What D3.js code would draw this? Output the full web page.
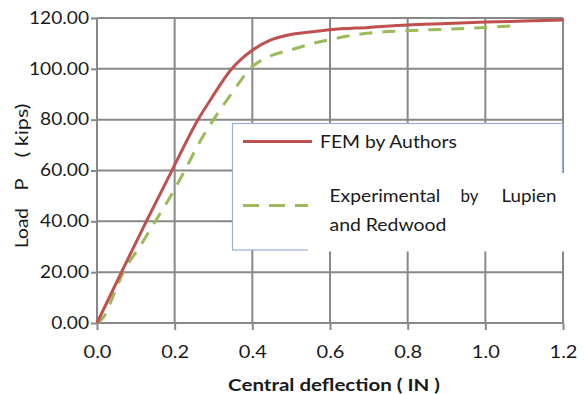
<!DOCTYPE html>
<html>
<head>
<meta charset="utf-8">
<script src="https://cdn.jsdelivr.net/npm/d3@7"></script>
<style>
  html, body { margin: 0; padding: 0; background: #fff; }
  svg { display: block; font-family: Lato, "Open Sans", sans-serif; }
</style>
</head>
<body>
<div id="chart"></div>
<script>
// load vs central deflection
const femDeflection = [0, 0.063, 0.127, 0.193, 0.26, 0.295, 0.347, 0.40, 0.445, 0.49, 0.556, 0.60, 0.70, 0.80, 0.90, 1.00, 1.10, 1.20];
const femLoad       = [0, 20, 40, 60, 80, 88.5, 100, 107.3, 111.2, 113.2, 114.6, 115.4, 116.3, 117.2, 117.8, 118.4, 118.8, 119.2];

const expDeflection = [0, 0.02, 0.04, 0.068, 0.11, 0.15, 0.19, 0.226, 0.26, 0.30, 0.35, 0.394, 0.45, 0.50, 0.556, 0.60, 0.685, 0.80, 0.90, 1.00, 1.08];
const expLoad       = [0, 3, 10, 20, 30, 40, 50, 60, 70, 80, 91, 100, 105.3, 107.5, 110, 111.5, 113.8, 115.0, 115.6, 116.3, 117.0];

const xTicks = [0, 0.2, 0.4, 0.6, 0.8, 1.0, 1.2];
const yTicks = [0, 20, 40, 60, 80, 100, 120];

const seriesNames = ['FEM by Authors', 'Experimental by Lupien and Redwood'];

const W = 584, H = 394;
const GRID = '#888888';
const INK = '#1a1a1a';

const x = d3.scaleLinear().domain([0, 1.2]).range([97, 563]);
const y = d3.scaleLinear().domain([0, 120]).range([323, 18]);

// the source image is stretched sideways, so text gets widened to the measured width
function fitText(sel, width) {
  const sx = width / d3.max(sel.nodes(), n => n.getComputedTextLength());
  sel.attr('transform', function() {
    const ax = +this.getAttribute('x') || 0;
    return `translate(${ax},0) scale(${sx},1) translate(${-ax},0)`;
  });
  return sx;
}

const svg = d3.select('#chart').append('svg')
  .attr('width', W)
  .attr('height', H);

// grid
svg.append('g').selectAll('line')
  .data(xTicks).join('line')
  .attr('x1', d => x(d)).attr('x2', d => x(d))
  .attr('y1', y(120)).attr('y2', y(0))
  .style('stroke', GRID).style('stroke-width', 2);

svg.append('g').selectAll('line')
  .data(yTicks).join('line')
  .attr('x1', x(0)).attr('x2', x(1.2))
  .attr('y1', d => y(d)).attr('y2', d => y(d))
  .style('stroke', GRID).style('stroke-width', 2);

// axes (only ticks + labels, the grid does the lines)
const xAxis = svg.append('g')
  .attr('transform', `translate(0,${y(0)})`)
  .call(d3.axisBottom(x).tickValues(xTicks).tickFormat(d3.format('.1f')).tickSize(7).tickPadding(16));

const yAxis = svg.append('g')
  .attr('transform', `translate(${x(0)},0)`)
  .call(d3.axisLeft(y).tickValues(yTicks).tickFormat(d3.format('.2f')).tickSize(6).tickPadding(2));

[xAxis, yAxis].forEach(a => {
  a.select('.domain').remove();
  a.selectAll('.tick line').style('stroke', GRID).style('stroke-width', 2);
  a.selectAll('.tick text').style('fill', INK).style('font-family', 'Lato, sans-serif');
});
xAxis.selectAll('.tick text').style('font-size', '17.5px');
yAxis.selectAll('.tick text').style('font-size', '16.5px');
fitText(xAxis.selectAll('.tick text'), 28);
fitText(yAxis.selectAll('.tick text'), 60);

// curves
const line = d3.line()
  .x(d => x(d[0]))
  .y(d => y(d[1]))
  .curve(d3.curveMonotoneX);

svg.append('path')
  .datum(d3.zip(expDeflection, expLoad))
  .attr('d', line)
  .style('fill', 'none')
  .style('stroke', '#9BBB59')
  .style('stroke-width', 3)
  .style('stroke-dasharray', '13,10');

svg.append('path')
  .datum(d3.zip(femDeflection, femLoad))
  .attr('d', line)
  .style('fill', 'none')
  .style('stroke', '#C0504D')
  .style('stroke-width', 3);

// legend
const lg = svg.append('g');

lg.append('rect')
  .attr('x', 232.5).attr('y', 123.5)
  .attr('width', 330).attr('height', 126.5)
  .style('fill', '#fff')
  .style('stroke', '#95B3D7')
  .style('stroke-width', 1.2);

lg.append('line')
  .attr('x1', 243).attr('x2', 312)
  .attr('y1', 141.5).attr('y2', 141.5)
  .style('stroke', '#C0504D').style('stroke-width', 3);

lg.append('line')
  .attr('x1', 243).attr('x2', 308)
  .attr('y1', 205.5).attr('y2', 205.5)
  .style('stroke', '#9BBB59').style('stroke-width', 3)
  .style('stroke-dasharray', '16,10');

const femLabel = lg.append('text')
  .attr('x', 320).attr('y', 148)
  .style('font-size', '17.5px').style('fill', INK)
  .text(seriesNames[0]);
fitText(femLabel, 137);

// white text box that overlaps the legend frame
lg.append('rect')
  .attr('x', 308).attr('y', 173)
  .attr('width', W - 308).attr('height', 78.5)
  .style('fill', '#fff');

// justified first line, then the wrap
const words = seriesNames[1].split(' ');
const expWords = [
  {t: words[0], x: 329.5, y: 202.5, w: 111},
  {t: words[1], x: 460.5, y: 202.5, w: 18},
  {t: words[2], x: 501.5, y: 202.5, w: 55},
  {t: words.slice(3).join(' '), x: 329.5, y: 231.5, w: 117}
];
lg.selectAll('text.exp')
  .data(expWords).join('text')
  .attr('class', 'exp')
  .attr('x', d => d.x).attr('y', d => d.y)
  .style('font-size', '17.5px').style('fill', INK)
  .text(d => d.t)
  .each(function(d) { fitText(d3.select(this), d.w); });

// axis titles
const xTitle = svg.append('text')
  .attr('x', 334).attr('y', 391)
  .attr('text-anchor', 'middle')
  .style('font-size', '17px').style('font-weight', 'bold').style('fill', INK)
  .text('Central deflection ( IN )');
fitText(xTitle, 212);

const yTitle = svg.append('g')
  .attr('transform', 'translate(28,0) rotate(-90)');
const yParts = [
  {t: 'Load', x: -248, w: 40},
  {t: 'P', x: -190.5, w: 12},
  {t: '( kips)', x: -157.5, w: 54}
];
yTitle.selectAll('text')
  .data(yParts).join('text')
  .attr('x', d => d.x).attr('y', 0)
  .style('font-size', '18px').style('fill', INK)
  .style('white-space', 'pre')
  .text(d => d.t)
  .each(function(d) { fitText(d3.select(this), d.w); });
</script>
</body>
</html>
